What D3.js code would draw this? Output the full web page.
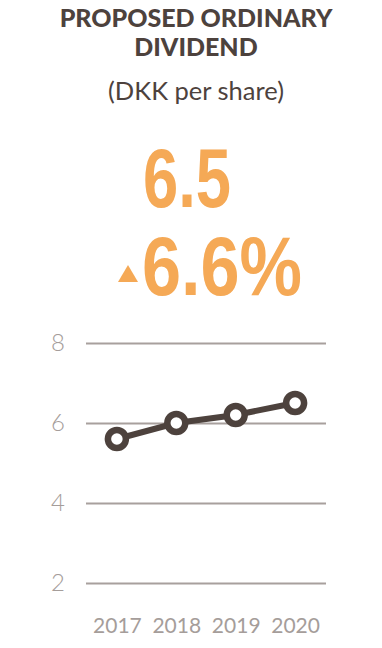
<!DOCTYPE html>
<html>
<head>
<meta charset="utf-8">
<script src="https://cdn.jsdelivr.net/npm/d3@7"></script>
<style>
  body { margin: 0; background: #fff; }
  svg { display: block; }
</style>
</head>
<body>
<script>
// Proposed ordinary dividend, DKK per share
var years = ['2017', '2018', '2019', '2020'];
var dividend = [5.6, 6.0, 6.2, 6.5];
var yTicks = [2, 4, 6, 8];
var titleLines = ['PROPOSED ORDINARY', 'DIVIDEND'];
var subtitle = '(DKK per share)';
var headline = '6.5';
var change = '6.6%';

var width = 382, height = 648;
var brown = '#4d423d', orange = '#f5a956', grey = '#a59d9a', gridGrey = '#a8a09d';

var svg = d3.select('body').append('svg')
  .attr('width', width)
  .attr('height', height);

// title block
svg.selectAll('text.title')
  .data(titleLines)
  .enter().append('text')
  .attr('class', 'title')
  .attr('x', 196)
  .attr('y', function(d, i) { return 27 + i * 29; })
  .attr('text-anchor', 'middle')
  .style('font-family', 'Lato, sans-serif')
  .style('font-weight', 900)
  .style('font-size', '25px')
  .style('fill', brown)
  .text(function(d) { return d; });

svg.append('text')
  .attr('x', 196)
  .attr('y', 100)
  .attr('text-anchor', 'middle')
  .style('font-family', 'Lato, sans-serif')
  .style('font-size', '25.5px')
  .style('fill', brown)
  .text(subtitle);

// big numbers
svg.append('text')
  .attr('x', 143)
  .attr('y', 207)
  .attr('textLength', 88)
  .attr('lengthAdjust', 'spacingAndGlyphs')
  .style('font-family', '"Liberation Sans Narrow", "Liberation Sans", sans-serif')
  .style('font-weight', 'bold')
  .style('font-size', '84px')
  .style('fill', orange)
  .text(headline);

svg.append('text')
  .attr('x', 142)
  .attr('y', 295)
  .attr('textLength', 160)
  .attr('lengthAdjust', 'spacingAndGlyphs')
  .style('font-family', '"Liberation Sans Narrow", "Liberation Sans", sans-serif')
  .style('font-weight', 'bold')
  .style('font-size', '84px')
  .style('fill', orange)
  .text(change);

svg.append('path')
  .attr('d', 'M118,282 L128,265 L138,282 Z')
  .style('fill', orange);

// chart
var x = d3.scalePoint()
  .domain(years)
  .range([86, 326])
  .padding(0.52);

var y = d3.scaleLinear()
  .domain([2, 8])
  .range([583, 343]);

var yAxis = d3.axisLeft(y)
  .tickValues(yTicks)
  .tickFormat(d3.format('d'))
  .tickSize(-240)
  .tickPadding(21);

var gy = svg.append('g')
  .attr('transform', 'translate(86,0)')
  .call(yAxis);
gy.select('.domain').remove();
gy.selectAll('line').style('stroke', gridGrey).style('stroke-width', 2);
gy.selectAll('text')
  .style('font-family', 'Lato, sans-serif')
  .style('font-weight', 300)
  .style('font-size', '24px')
  .style('fill', grey);

var xAxis = d3.axisBottom(x)
  .tickSize(0)
  .tickPadding(0);

var gx = svg.append('g')
  .attr('transform', 'translate(0,618)')
  .call(xAxis);
gx.select('.domain').remove();
gx.selectAll('text')
  .style('font-family', 'Lato, sans-serif')
  .style('font-size', '21px')
  .style('fill', grey);

var line = d3.line()
  .x(function(d, i) { return x(years[i]); })
  .y(function(d) { return y(d); });

svg.append('path')
  .datum(dividend)
  .attr('d', line)
  .style('fill', 'none')
  .style('stroke', brown)
  .style('stroke-width', 6);

svg.selectAll('circle.pt')
  .data(dividend)
  .enter().append('circle')
  .attr('class', 'pt')
  .attr('cx', function(d, i) { return x(years[i]); })
  .attr('cy', function(d) { return y(d); })
  .attr('r', 9)
  .style('fill', '#fff')
  .style('stroke', brown)
  .style('stroke-width', 6.5);
</script>
</body>
</html>
